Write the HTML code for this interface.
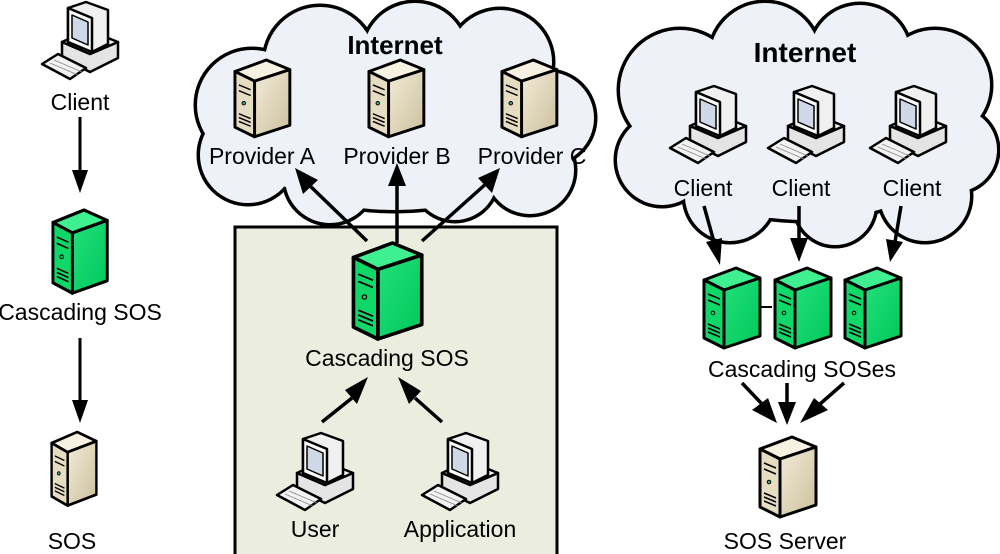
<!DOCTYPE html>
<html><head><meta charset="utf-8"><style>
html,body{margin:0;padding:0;background:#fff;}
svg{display:block;}
text{font-family:"Liberation Sans",sans-serif;fill:#000;}
</style></head><body>
<svg width="1000" height="554" viewBox="0 0 1000 554" xmlns="http://www.w3.org/2000/svg">
<defs>
<linearGradient id="gs" x1="0" y1="0" x2="1" y2="1"><stop offset="0" stop-color="#22e07a"/><stop offset="1" stop-color="#00c85a"/></linearGradient>
<linearGradient id="bs" x1="0" y1="0" x2="1" y2="1"><stop offset="0" stop-color="#f3ecd9"/><stop offset="1" stop-color="#cbbf9c"/></linearGradient>
<g id="srvG">
 <polygon points="2,12 34,0 58,10 22,22" fill="#3ef090" stroke="#000" stroke-width="3" stroke-linejoin="round"/>
 <polygon points="22,22 58,10 58,68 22,80" fill="url(#gs)" stroke="#000" stroke-width="3" stroke-linejoin="round"/>
 <polygon points="2,12 22,22 22,80 2,70" fill="#10d868" stroke="#000" stroke-width="3" stroke-linejoin="round"/>
 <path d="M6,26 L18,31 M6,32 L18,37 M6,56 L18,61 M6,60 L18,65 M6,64 L18,69" stroke="#000" stroke-width="1.5"/>
 <circle cx="11" cy="45" r="1.8" fill="none" stroke="#000" stroke-width="1"/>
</g>
<g id="srvB">
 <polygon points="2,12 34,0 58,10 22,22" fill="#f7f1e2" stroke="#000" stroke-width="3" stroke-linejoin="round"/>
 <polygon points="22,22 58,10 58,68 22,80" fill="url(#bs)" stroke="#000" stroke-width="3" stroke-linejoin="round"/>
 <polygon points="2,12 22,22 22,80 2,70" fill="#e6dcc1" stroke="#000" stroke-width="3" stroke-linejoin="round"/>
 <path d="M6,26 L18,31 M6,32 L18,37 M6,56 L18,61 M6,60 L18,65 M6,64 L18,69" stroke="#000" stroke-width="1.5"/>
 <circle cx="11" cy="45" r="1.8" fill="#4a8" stroke="#000" stroke-width="1"/>
</g>
<g id="pc" stroke="#000" stroke-width="2.5" stroke-linejoin="round">
 <polygon points="20,40 48,52 76,40 76,56 48,70 20,56" fill="#e4e4e4"/>
 <polygon points="20,40 46,28 76,40 48,52" fill="#f4f4f4"/>
 <polygon points="26,6 44,0 66,8 66,42 50,50 26,40" fill="#f0f0f0"/>
 <polygon points="26,6 50,16 50,50 26,40" fill="#fafafa"/>
 <polygon points="30,13 46,20 46,43 30,36" fill="#cfd8e6" stroke-width="1.5"/>
 <polygon points="0,62 16,52 44,66 28,77" fill="#f2f2f2"/>
 <path d="M8,61 L36,73 M12,58 L40,70" stroke-width="0.8" stroke="#888"/>
</g>
</defs>

<!-- Left column -->
<use href="#pc" x="42" y="2"/>
<text x="80" y="110" font-size="23" text-anchor="middle">Client</text>
<line x1="80" y1="117" x2="80" y2="172" stroke="#000" stroke-width="3"/>
<polygon points="72,170 88,170 80,193" fill="#000"/>
<use href="#srvG" transform="translate(51,210) scale(0.97,1.04)"/>
<text x="80" y="320" font-size="23" text-anchor="middle">Cascading SOS</text>
<line x1="80" y1="338" x2="80" y2="402" stroke="#000" stroke-width="3"/>
<polygon points="72,400 88,400 80,423" fill="#000"/>
<use href="#srvB" transform="translate(50,432) scale(0.8,0.92)"/>
<text x="72" y="549" font-size="23" text-anchor="middle">SOS</text>

<!-- Middle cloud -->
<g stroke="#000" stroke-width="7" fill="#000">
 <ellipse cx="395" cy="125" rx="160" ry="85"/>
 <circle cx="252" cy="105" r="55"/><circle cx="320" cy="62" r="55"/><circle cx="415" cy="55" r="52"/><circle cx="500" cy="62" r="52"/>
 <circle cx="548" cy="118" r="46"/><circle cx="530" cy="170" r="44"/><circle cx="455" cy="178" r="42"/><circle cx="330" cy="178" r="45"/><circle cx="248" cy="155" r="48"/>
</g>
<g fill="#eef1f7">
 <ellipse cx="395" cy="125" rx="160" ry="85"/>
 <circle cx="252" cy="105" r="55"/><circle cx="320" cy="62" r="55"/><circle cx="415" cy="55" r="52"/><circle cx="500" cy="62" r="52"/>
 <circle cx="548" cy="118" r="46"/><circle cx="530" cy="170" r="44"/><circle cx="455" cy="178" r="42"/><circle cx="330" cy="178" r="45"/><circle cx="248" cy="155" r="48"/>
</g>
<text x="395" y="54" font-size="26" font-weight="bold" text-anchor="middle">Internet</text>
<use href="#srvB" transform="translate(233,60) scale(0.98,0.96)"/>
<use href="#srvB" transform="translate(367,60) scale(0.98,0.96)"/>
<use href="#srvB" transform="translate(500,60) scale(0.98,0.96)"/>
<text x="262" y="164" font-size="23" text-anchor="middle">Provider A</text>
<text x="397" y="164" font-size="23" text-anchor="middle">Provider B</text>
<text x="532" y="164" font-size="23" text-anchor="middle">Provider C</text>

<!-- Green box -->
<rect x="235" y="227" width="322" height="330" fill="#ebeedf" stroke="#000" stroke-width="3"/>
<g stroke="#000" stroke-width="3.5">
 <line x1="367" y1="241" x2="307" y2="183"/>
 <line x1="397" y1="243" x2="397" y2="185"/>
 <line x1="422" y1="241" x2="488" y2="182"/>
</g>
<polygon points="295,168 318,180 303,194" fill="#000"/>
<polygon points="397,163 406,186 388,186" fill="#000"/>
<polygon points="500,168 478,178 492,193" fill="#000"/>
<use href="#srvG" transform="translate(351,243) scale(1.22,1.2)"/>
<text x="387" y="366" font-size="23" text-anchor="middle">Cascading SOS</text>
<g stroke="#000" stroke-width="3.5">
 <line x1="322" y1="422" x2="352" y2="398"/>
 <line x1="442" y1="422" x2="415" y2="398"/>
</g>
<polygon points="368,377 357,404 345,390" fill="#000"/>
<polygon points="398,377 421,391 409,404" fill="#000"/>
<use href="#pc" x="277" y="433"/>
<use href="#pc" x="422" y="433"/>
<text x="315" y="537" font-size="23" text-anchor="middle">User</text>
<text x="460" y="537" font-size="23" text-anchor="middle">Application</text>

<!-- Right cloud -->
<g stroke="#000" stroke-width="7" fill="#000">
 <ellipse cx="805" cy="130" rx="160" ry="90"/>
 <circle cx="680" cy="90" r="60"/><circle cx="765" cy="58" r="55"/><circle cx="860" cy="55" r="50"/><circle cx="935" cy="85" r="55"/>
 <circle cx="955" cy="150" r="42"/><circle cx="925" cy="196" r="45"/><circle cx="835" cy="205" r="40"/><circle cx="730" cy="196" r="45"/><circle cx="662" cy="160" r="45"/>
</g>
<g fill="#eef1f7">
 <ellipse cx="805" cy="130" rx="160" ry="90"/>
 <circle cx="680" cy="90" r="60"/><circle cx="765" cy="58" r="55"/><circle cx="860" cy="55" r="50"/><circle cx="935" cy="85" r="55"/>
 <circle cx="955" cy="150" r="42"/><circle cx="925" cy="196" r="45"/><circle cx="835" cy="205" r="40"/><circle cx="730" cy="196" r="45"/><circle cx="662" cy="160" r="45"/>
</g>
<text x="805" y="62" font-size="28" font-weight="bold" text-anchor="middle">Internet</text>
<use href="#pc" x="670" y="86"/>
<use href="#pc" x="768" y="86"/>
<use href="#pc" x="870" y="86"/>
<text x="703" y="196" font-size="23" text-anchor="middle">Client</text>
<text x="801" y="196" font-size="23" text-anchor="middle">Client</text>
<text x="912" y="196" font-size="23" text-anchor="middle">Client</text>
<g stroke="#000" stroke-width="3.5">
 <line x1="704" y1="206" x2="714" y2="242"/>
 <line x1="799" y1="206" x2="799" y2="240"/>
 <line x1="901" y1="206" x2="895" y2="242"/>
 <line x1="760" y1="307" x2="772" y2="307" stroke-width="2"/>
</g>
<polygon points="720,265 706,242 722,238" fill="#000"/>
<polygon points="799,262 790,238 808,238" fill="#000"/>
<polygon points="890,262 886,239 903,242" fill="#000"/>
<use href="#srvG" x="702" y="268"/>
<use href="#srvG" x="773" y="268"/>
<use href="#srvG" x="843" y="268"/>
<text x="802" y="377" font-size="23" text-anchor="middle">Cascading SOSes</text>
<g stroke="#000" stroke-width="3.5">
 <line x1="742" y1="383" x2="762" y2="404"/>
 <line x1="787" y1="383" x2="787" y2="404"/>
 <line x1="844" y1="383" x2="820" y2="404"/>
</g>
<polygon points="777,423 752,410 768,398" fill="#000"/>
<polygon points="787,425 778,402 796,402" fill="#000"/>
<polygon points="800,423 814,398 828,410" fill="#000"/>
<use href="#srvB" transform="translate(758,437) scale(1,1)"/>
<text x="785" y="549" font-size="23" text-anchor="middle">SOS Server</text>
</svg>
</body></html>
